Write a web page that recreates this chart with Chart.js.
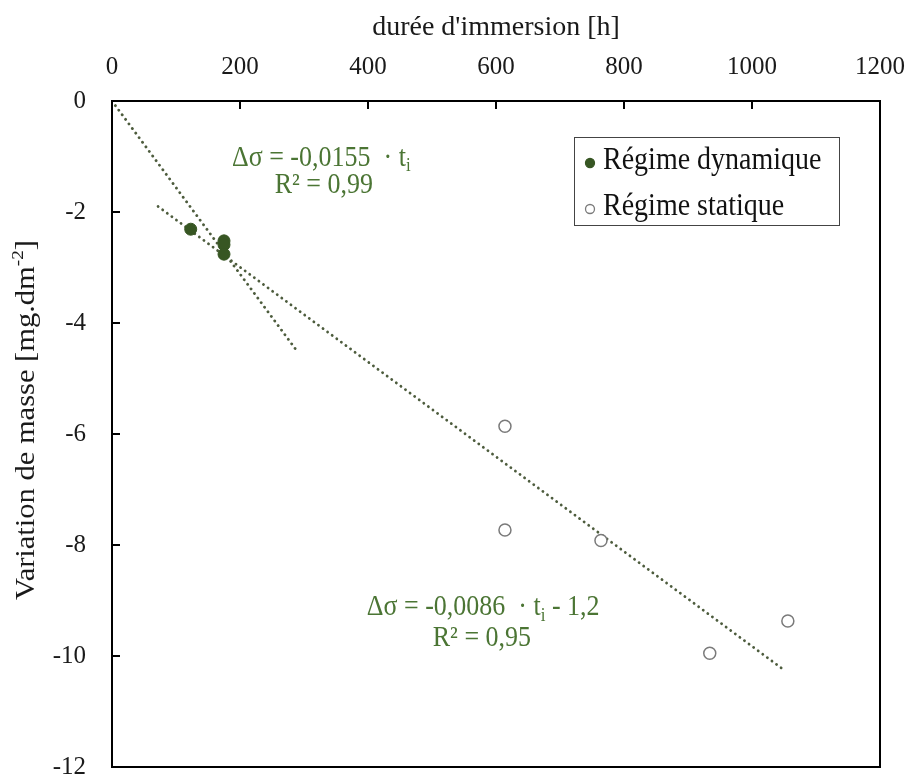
<!DOCTYPE html>
<html>
<head>
  <title>Variation de masse</title>
  <script src="https://cdn.jsdelivr.net/npm/chart.js"></script>
  <style>
    body { margin: 0; background: #fff; }
  </style>
</head>
<body>
<canvas id="massChart" width="911" height="776"></canvas>

<script>
  // values
  const dynHours = [123, 175, 175, 175];
  const dynMass = [-2.31, -2.52, -2.59, -2.76];
  const statHours = [614, 614, 764, 934, 1056];
  const statMass = [-5.86, -7.73, -7.92, -9.95, -9.37];

  // trend line ends
  const fitDynHours = [0, 290];
  const fitDynMass = [0, -4.52];
  const fitStatHours = [72, 1051];
  const fitStatMass = [-1.9, -10.26];

  const xTicks = [0, 200, 400, 600, 800, 1000, 1200];
  const yTicks = [0, -2, -4, -6, -8, -10, -12];

  const serif = "'Liberation Serif', 'Times New Roman', serif";
  const darkGreen = '#375623';
  const textGreen = '#4b7534';
  const dotColor = '#4d5c3d';
  const stretch = 1.1; // the picture's text is a bit taller than wide

  function toPoints(xs, ys) {
    return xs.map((x, i) => ({ x: x, y: ys[i] }));
  }

  function tallText(ctx, text, x, y) {
    ctx.save();
    ctx.translate(x, y);
    ctx.scale(1, stretch);
    ctx.fillText(text, 0, 0);
    ctx.restore();
  }

  // equation text, with subscript i
  function drawEquation(ctx, cx, cy, before, after) {
    const big = '26px ' + serif;
    const small = '17px ' + serif;
    ctx.font = big;
    const w1 = ctx.measureText(before).width;
    const w3 = ctx.measureText(after).width;
    ctx.font = small;
    const w2 = ctx.measureText('i').width;
    let x = cx - (w1 + w2 + w3) / 2;
    ctx.textAlign = 'left';
    ctx.textBaseline = 'middle';
    ctx.font = big;
    tallText(ctx, before, x, cy);
    x += w1;
    ctx.font = small;
    tallText(ctx, 'i', x, cy + 8);
    x += w2;
    ctx.font = big;
    tallText(ctx, after, x, cy);
  }

  const extras = {
    id: 'extras',
    afterDraw(chart) {
      const ctx = chart.ctx;
      const area = chart.chartArea;
      const xs = chart.scales.x;
      const ys = chart.scales.y;
      ctx.save();

      // box + inside ticks
      ctx.strokeStyle = '#000';
      ctx.lineWidth = 2;
      ctx.strokeRect(area.left, area.top, area.right - area.left, area.bottom - area.top);
      ctx.beginPath();
      xTicks.forEach(v => {
        const px = xs.getPixelForValue(v);
        ctx.moveTo(px, area.top);
        ctx.lineTo(px, area.top + 8);
      });
      yTicks.forEach(v => {
        const py = ys.getPixelForValue(v);
        ctx.moveTo(area.left, py);
        ctx.lineTo(area.left + 8, py);
      });
      ctx.stroke();

      // y axis title with superscript
      ctx.fillStyle = '#1a1a1a';
      ctx.translate(27, (area.top + area.bottom) / 2 - 14);
      ctx.rotate(-Math.PI / 2);
      ctx.scale(1.13, 1);
      const t1 = 'Variation de masse [mg.dm';
      ctx.font = '27px ' + serif;
      const a = ctx.measureText(t1).width;
      ctx.font = '17px ' + serif;
      const b = ctx.measureText('-2').width;
      ctx.font = '27px ' + serif;
      const c = ctx.measureText(']').width;
      let x0 = -(a + b + c) / 2;
      ctx.textBaseline = 'middle';
      ctx.textAlign = 'left';
      ctx.fillText(t1, x0, 0);
      ctx.font = '17px ' + serif;
      ctx.fillText('-2', x0 + a, -8);
      ctx.font = '27px ' + serif;
      ctx.fillText(']', x0 + a + b, 0);
      ctx.setTransform(1, 0, 0, 1, 0, 0);

      // equations
      ctx.fillStyle = textGreen;
      drawEquation(ctx, xs.getPixelForValue(327), ys.getPixelForValue(-1.03), '\u0394\u03c3 = -0,0155  \u00b7 t', '');
      ctx.font = '26px ' + serif;
      ctx.textAlign = 'center';
      tallText(ctx, 'R\u00b2 = 0,99', xs.getPixelForValue(331), ys.getPixelForValue(-1.53));
      drawEquation(ctx, xs.getPixelForValue(580), ys.getPixelForValue(-9.13), '\u0394\u03c3 = -0,0086  \u00b7 t', ' - 1,2');
      ctx.font = '26px ' + serif;
      ctx.textAlign = 'center';
      tallText(ctx, 'R\u00b2 = 0,95', xs.getPixelForValue(578), ys.getPixelForValue(-9.68));

      // legend box inside the plot
      const lx = 574, ly = 137, lw = 265, lh = 88;
      ctx.fillStyle = '#fff';
      ctx.fillRect(lx, ly, lw, lh);
      ctx.strokeStyle = '#444';
      ctx.lineWidth = 1;
      ctx.strokeRect(lx + 0.5, ly + 0.5, lw, lh);
      const items = chart.data.datasets.filter(d => !d.isFit);
      items.forEach((d, i) => {
        const iy = ly + 24 + i * 46;
        ctx.beginPath();
        ctx.arc(lx + 16, iy + 2, 4.5, 0, Math.PI * 2);
        ctx.fillStyle = d.backgroundColor;
        ctx.fill();
        ctx.strokeStyle = d.borderColor;
        ctx.lineWidth = 1.3;
        ctx.stroke();
        ctx.fillStyle = '#111';
        ctx.font = '28px ' + serif;
        ctx.textAlign = 'left';
        ctx.textBaseline = 'middle';
        tallText(ctx, d.label, lx + 29, iy);
      });
      ctx.restore();
    }
  };

  const data = {
    datasets: [
      {
        label: 'R\u00e9gime dynamique',
        data: toPoints(dynHours, dynMass),
        backgroundColor: darkGreen,
        borderColor: darkGreen,
        pointRadius: 6,
        borderWidth: 1,
        order: 1
      },
      {
        label: 'R\u00e9gime statique',
        data: toPoints(statHours, statMass),
        backgroundColor: '#ffffff',
        borderColor: '#7a7a7a',
        pointRadius: 6,
        borderWidth: 1.5,
        order: 1
      },
      {
        type: 'line',
        label: 'fit dynamique',
        isFit: true,
        data: toPoints(fitDynHours, fitDynMass),
        borderColor: dotColor,
        borderWidth: 2.8,
        borderDash: [0.1, 5.6],
        borderCapStyle: 'round',
        pointRadius: 0,
        fill: false,
        order: 2
      },
      {
        type: 'line',
        label: 'fit statique',
        isFit: true,
        data: toPoints(fitStatHours, fitStatMass),
        borderColor: dotColor,
        borderWidth: 2.8,
        borderDash: [0.1, 5.6],
        borderCapStyle: 'round',
        pointRadius: 0,
        fill: false,
        order: 2
      }
    ]
  };

  const config = {
    type: 'scatter',
    data: data,
    options: {
      responsive: false,
      animation: false,
      layout: { padding: { left: 0, top: 0, right: 31, bottom: 9 } },
      plugins: {
        legend: { display: false },
        tooltip: { enabled: false }
      },
      scales: {
        x: {
          type: 'linear',
          position: 'top',
          min: 0,
          max: 1200,
          afterBuildTicks: scale => { scale.ticks = xTicks.map(v => ({ value: v })); },
          afterFit: scale => {
            scale.height = 101;
            scale.paddingLeft = 0;
            scale.paddingRight = 0;
          },
          grid: { display: false, drawTicks: false },
          border: { display: false },
          ticks: {
            color: '#1a1a1a',
            padding: 19,
            font: { family: serif, size: 25 },
            callback: v => String(v)
          },
          title: {
            display: true,
            text: "dur\u00e9e d'immersion [h]",
            color: '#1a1a1a',
            padding: { top: 11, bottom: 0 },
            font: { family: serif, size: 28 }
          }
        },
        y: {
          type: 'linear',
          min: -12,
          max: 0,
          afterBuildTicks: scale => { scale.ticks = yTicks.map(v => ({ value: v })); },
          afterFit: scale => {
            scale.width = 112;
            scale.paddingTop = 0;
            scale.paddingBottom = 0;
          },
          grid: { display: false, drawTicks: false },
          border: { display: false },
          ticks: {
            color: '#1a1a1a',
            padding: 26,
            font: { family: serif, size: 25 },
            callback: v => String(v)
          }
        }
      }
    },
    plugins: [extras]
  };

  new Chart(document.getElementById('massChart'), config);
</script>
</body>
</html>
